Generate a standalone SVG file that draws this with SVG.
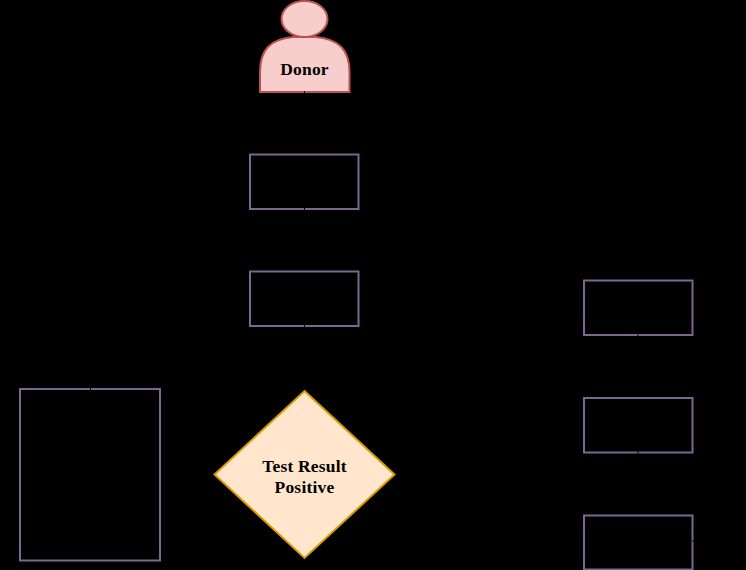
<svg xmlns="http://www.w3.org/2000/svg" width="746" height="570" viewBox="0 0 746 570">
<style>
.box{fill:none;stroke:#7d6691;stroke-width:2}
.conn{fill:none;stroke:#000;stroke-width:1}
.lbl{font-family:"Liberation Serif","Times New Roman",serif;font-weight:700;font-size:17.5px;letter-spacing:.2px;fill:#000;text-anchor:middle}
</style>
<rect id="background" x="0" y="0" width="746" height="570" fill="#000"/>
<g id="donor">
<ellipse cx="304.500" cy="19" rx="23" ry="18" fill="#f8cecc" stroke="#b85450" stroke-width="2"/>
<path d="M260 92V72C260 50 270 39 293 37H316C339 39 349.500 50 349.500 72V92Z" fill="#f8cecc" stroke="#b85450" stroke-width="2"/>
<text class="lbl" x="304.500" y="75">Donor</text>
</g>
<g id="box1"><rect class="box" x="250" y="154.500" width="108.500" height="54.500"/></g>
<g id="box2"><rect class="box" x="250" y="271.500" width="108.500" height="54.500"/></g>
<g id="left-box"><rect class="box" x="20" y="389" width="140" height="171.500"/></g>
<g id="right-box1"><rect class="box" x="584" y="280.500" width="108.500" height="54.500"/></g>
<g id="right-box2"><rect class="box" x="584" y="398" width="108.500" height="54.500"/></g>
<g id="right-box3"><rect class="box" x="584" y="515.500" width="108.500" height="54"/></g>
<g id="decision">
<polygon points="304.500,391 394.500,474.500 304.500,558 214.500,474.500" fill="#ffe6cc" stroke="#d79b00" stroke-width="2"/>
<text class="lbl" x="304.500" y="472">Test Result</text>
<text class="lbl" x="304.500" y="493">Positive</text>
</g>
<g id="connectors">
<path class="conn" d="M304.500 91V153"/>
<path class="conn" d="M304.500 208V270"/>
<path class="conn" d="M304.500 325V390"/>
<path class="conn" d="M638 334V397"/>
<path class="conn" d="M638 451V514"/>
<path class="conn" d="M90.500 390V375"/>
<path class="conn" d="M692 541H705"/>
</g>
</svg>
